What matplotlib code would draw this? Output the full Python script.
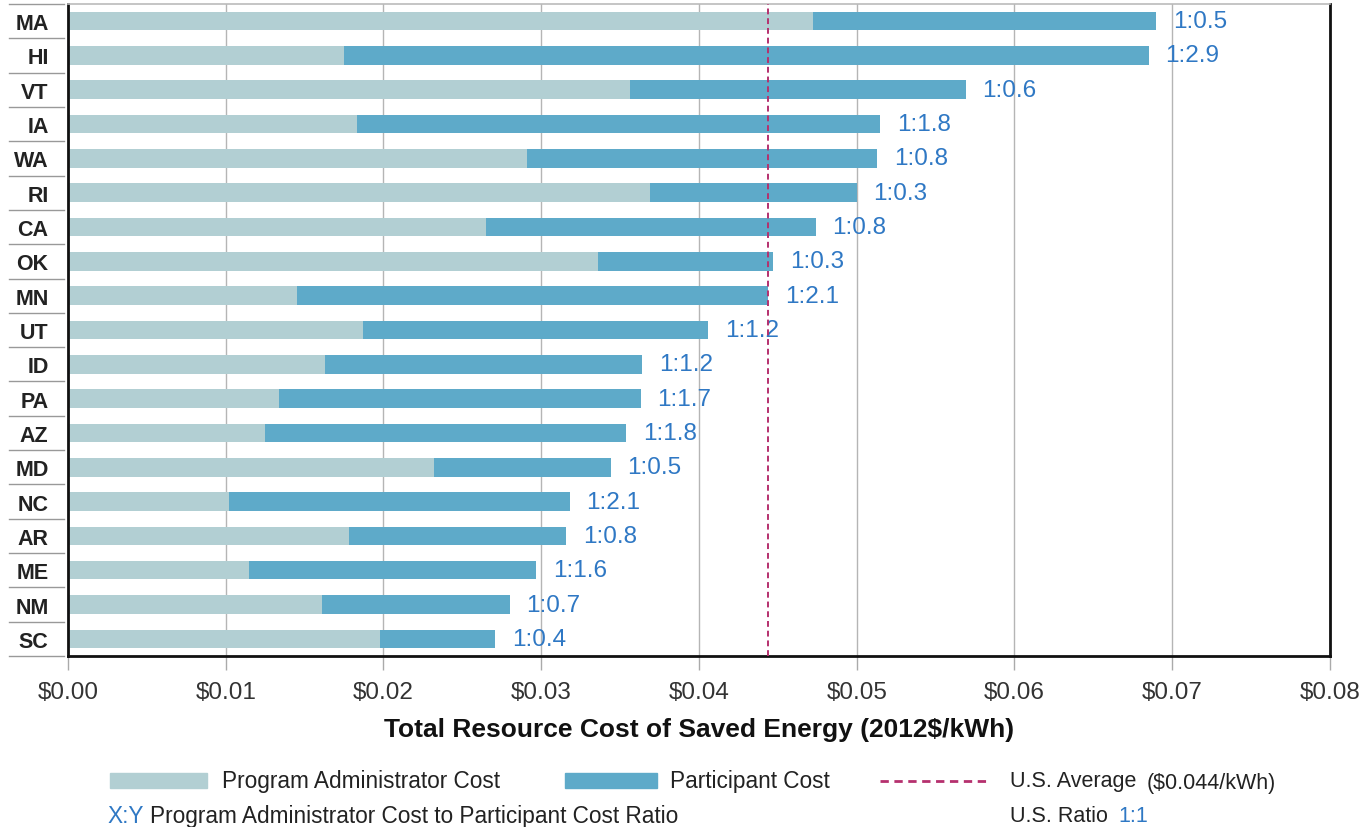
import numpy as np
import matplotlib
matplotlib.use("Agg")
import matplotlib.pyplot as plt
from matplotlib.patches import Rectangle
from matplotlib.lines import Line2D

plt.rcParams['font.family'] = ['Liberation Sans', 'DejaVu Sans']

# Data

states = ["MA", "HI", "VT", "IA", "WA", "RI", "CA", "OK", "MN", "UT",
          "ID", "PA", "AZ", "MD", "NC", "AR", "ME", "NM", "SC"]

admin_cost = [0.0472, 0.0175, 0.0356, 0.0183, 0.0291, 0.0369, 0.0265, 0.0336, 0.0145, 0.0187,
              0.0163, 0.0134, 0.0125, 0.0232, 0.0102, 0.0178, 0.0115, 0.0161, 0.0198]

total_cost = [0.0690, 0.0685, 0.0569, 0.0515, 0.0513, 0.0500, 0.0474, 0.0447, 0.0444, 0.0406,
              0.0364, 0.0363, 0.0354, 0.0344, 0.0318, 0.0316, 0.0297, 0.0280, 0.0271]

ratios = ["1:0.5", "1:2.9", "1:0.6", "1:1.8", "1:0.8", "1:0.3", "1:0.8", "1:0.3", "1:2.1", "1:1.2",
          "1:1.2", "1:1.7", "1:1.8", "1:0.5", "1:2.1", "1:0.8", "1:1.6", "1:0.7", "1:0.4"]

us_average = 0.0444

xticks = [0.00, 0.01, 0.02, 0.03, 0.04, 0.05, 0.06, 0.07, 0.08]

participant_cost = np.array(total_cost) - np.array(admin_cost)

# Colors

light_col = "#b2cfd3"
dark_col = "#5eaac9"
avg_col = "#b5306e"
ratio_col = "#2f78c4"
text_col = "#222222"

# ==========================================================
# Plot
# ==========================================================

fig = plt.figure(figsize=(13.68, 8.28), dpi=100)
ax = fig.add_axes([0.0497, 0.2065, 0.9225, 0.7875])

y = np.arange(len(states))

ax.barh(y, admin_cost, height=0.54, color=light_col, zorder=2)
ax.barh(y, participant_cost, left=admin_cost, height=0.54, color=dark_col, zorder=2)

for i in range(len(states)):
    ax.annotate(ratios[i], xy=(total_cost[i], y[i]), xytext=(12, 0),
                textcoords="offset points", va="center", ha="left",
                fontsize=17.5, color=ratio_col)

ax.axvline(us_average, color=avg_col, linestyle=(0, (3, 2)), linewidth=1.4, zorder=3)

ax.set_xlim(0, 0.08)
ax.set_ylim(len(states) - 0.5, -0.5)

ax.set_xticks(xticks)
ax.set_xticklabels(["$%.2f" % t for t in xticks], fontsize=17.5, color="#333333")
ax.tick_params(axis="x", length=10, width=1, color="#aaaaaa", pad=8)
ax.grid(axis="x", color="#b5b5b5", linewidth=1, zorder=0)

ax.set_yticks(y)
ax.set_yticklabels(states, fontsize=15.5, fontweight="bold", color=text_col)
ax.tick_params(axis="y", length=0, pad=14)

ax.set_xlabel("Total Resource Cost of Saved Energy (2012$/kWh)",
              fontsize=19, fontweight="bold", color="#111111", labelpad=10)

for side in ["left", "bottom", "right"]:
    ax.spines[side].set_color("#111111")
    ax.spines[side].set_linewidth(2)
ax.spines["top"].set_color("#bbbbbb")
ax.spines["top"].set_linewidth(1.2)

# separator lines in the label column
trans = ax.get_yaxis_transform()
for b in np.arange(-0.5, len(states), 1.0):
    ax.plot([-0.047, -0.003], [b, b], color="#999999", linewidth=1,
            transform=trans, clip_on=False)

# ==========================================================
# Legend (drawn by hand)
# ==========================================================

W, H = 1368.0, 828.0

def fx(px):
    return px / W

def fy(py):
    return 1 - py / H

fig.patches.append(Rectangle((fx(110), fy(789)), fx(97), 15 / H, color=light_col,
                             transform=fig.transFigure, figure=fig))
fig.text(fx(222), fy(782), "Program Administrator Cost", fontsize=16.3, va="center", color=text_col)

fig.patches.append(Rectangle((fx(565), fy(789)), fx(92), 15 / H, color=dark_col,
                             transform=fig.transFigure, figure=fig))
fig.text(fx(670), fy(782), "Participant Cost", fontsize=16.3, va="center", color=text_col)

fig.lines.append(Line2D([fx(880), fx(988)], [fy(782), fy(782)], color=avg_col,
                        linestyle=(0, (3, 2)), linewidth=2, transform=fig.transFigure))
fig.text(fx(1010), fy(782), "U.S. Average", fontsize=15.5, va="center", color=text_col)
fig.text(fx(1147), fy(784), "($0.044/kWh)", fontsize=15.5, va="center", color=text_col)

fig.text(fx(107), fy(817), "X:Y", fontsize=16.3, va="center", color=ratio_col)
fig.text(fx(150), fy(817), "Program Administrator Cost to Participant Cost Ratio",
         fontsize=16.3, va="center", color=text_col)

fig.text(fx(1010), fy(817), "U.S. Ratio", fontsize=15.5, va="center", color=text_col)
fig.text(fx(1118), fy(817), "1:1", fontsize=15.5, va="center", color=ratio_col)

plt.savefig("out.png", dpi=100)
